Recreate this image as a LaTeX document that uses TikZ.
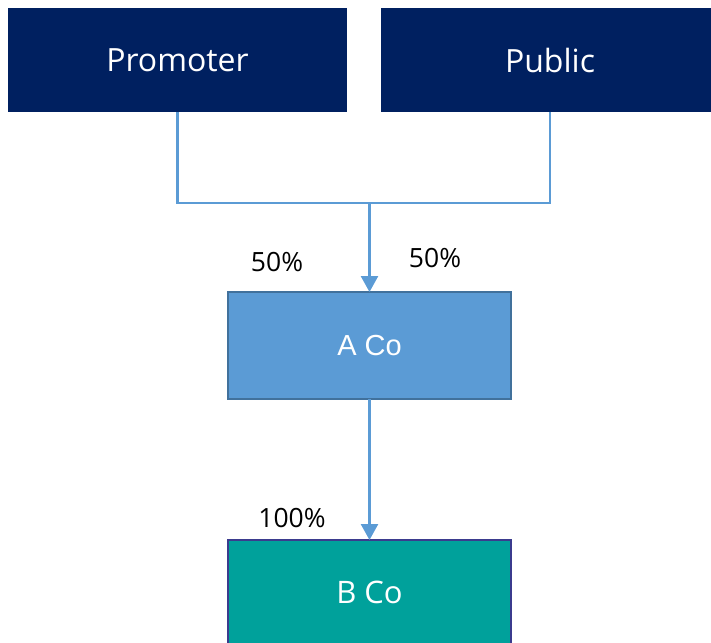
\documentclass[tikz,border=0pt]{standalone}
\usepackage{fontspec}
\setmainfont{Open Sans}
\newfontfamily\arialf{Liberation Sans}
\usetikzlibrary{arrows.meta}
\definecolor{navyfill}{HTML}{002060}
\definecolor{lineblue}{HTML}{5B9BD5}
\definecolor{aborder}{HTML}{41719C}
\definecolor{tealfill}{HTML}{00A19B}
\definecolor{tealborder}{HTML}{3B3B8E}
\tikzset{
  topbox/.style={fill=navyfill, text=white, inner sep=0pt, outer sep=0pt,
    minimum height=104pt, font=\fontsize{32}{38}\selectfont},
  abox/.style={fill=lineblue, draw=aborder, line width=2pt, text=white,
    inner sep=0pt, outer sep=0pt, minimum width=283pt, minimum height=107pt,
    font=\arialf\fontsize{29}{34}\selectfont},
  bbox/.style={fill=tealfill, draw=tealborder, line width=2.5pt, text=white,
    inner sep=0pt, outer sep=0pt, minimum width=283pt, minimum height=104pt,
    font=\fontsize{31}{36}\selectfont},
  conn/.style={draw=lineblue, line width=2.5pt},
  arr/.style={conn, -{Triangle[length=16pt, width=17pt]}},
  pct/.style={text=black, inner sep=0pt, font=\fontsize{26.5}{31}\selectfont}
}
\begin{document}
\begin{tikzpicture}[x=1pt,y=-1pt]
\useasboundingbox (0,0) rectangle (711,642);
\clip (0,0) rectangle (711,642);
\node[topbox, minimum width=339pt] (prom) at (177.5,60) {\raisebox{-1.5pt}{Promoter}};
\node[topbox, minimum width=338pt] (pub) at (550,60) {\raisebox{-1.5pt}{Public}};
\coordinate (j) at (369.5,203);
\node[abox] (aco) at (369.5,345.5) {A Co};
\node[bbox] (bco) at (369.5,592) {B Co};
\draw[conn] (prom.south) |- (j);
\draw[conn] (pub.south) |- (j);
\draw[arr] (j) -- (aco.north);
\draw[arr] (aco.south) -- (bco.north);
\node[pct] (l1) at (277,262) {50\%};
\node[pct] (l2) at (435,258) {50\%};
\node[pct] (l3) at (292,518) {100\%};
\end{tikzpicture}
\end{document}
